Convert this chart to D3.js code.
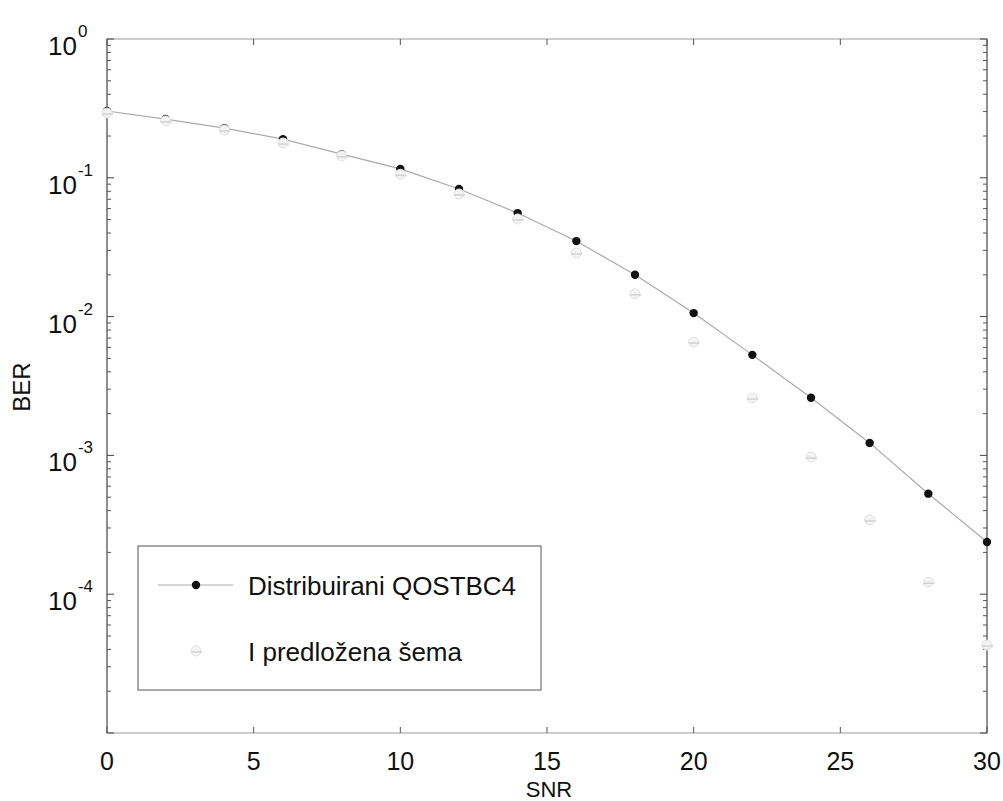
<!DOCTYPE html>
<html>
<head>
<meta charset="utf-8">
<script src="https://cdn.jsdelivr.net/npm/d3@7"></script>
<style>
  body { margin: 0; background: #fff; }
  svg { font-family: "Liberation Sans", Arial, sans-serif; }
</style>
</head>
<body>
<svg width="1003" height="801"></svg>
<script>
// data
const snr = [0, 2, 4, 6, 8, 10, 12, 14, 16, 18, 20, 22, 24, 26, 28, 30];
const berQostbc = [0.303, 0.265, 0.228, 0.19, 0.148, 0.116, 0.083, 0.0557, 0.035, 0.020,
                   0.0106, 0.0053, 0.0026, 0.00123, 0.00053, 0.000238];
const berProposed = [0.293, 0.257, 0.221, 0.178, 0.144, 0.106, 0.0764, 0.0505, 0.0287, 0.0146,
                     0.00656, 0.00259, 0.000973, 0.000343, 0.000122, 0.000043];
const xTicks = [0, 5, 10, 15, 20, 25, 30];
const yDecades = [0, -1, -2, -3, -4];
const legendLabels = ["Distribuirani QOSTBC4", "I predložena šema"];

const svg = d3.select("svg");
const plotL = 107, plotR = 987, plotT = 39, plotB = 733;

let x = d3.scaleLinear().domain([0, 30]).range([plotL, plotR]);
let y = d3.scaleLog().domain([1e-5, 1]).range([plotB, plotT]);

// frame
svg.append("rect")
   .attr("x", plotL).attr("y", plotT)
   .attr("width", plotR - plotL).attr("height", plotB - plotT)
   .attr("fill", "none").attr("stroke", "#aaa").attr("stroke-width", 1.2);
svg.append("line").attr("x1", plotL).attr("x2", plotL).attr("y1", plotT).attr("y2", plotB)
   .attr("stroke", "#555");
svg.append("line").attr("x1", plotR).attr("x2", plotR).attr("y1", plotT).attr("y2", plotB)
   .attr("stroke", "#555");

// y ticks (major + minor, inside on both sides)
let minor = [];
for (let e = -5; e < 0; e++) {
    for (let m = 2; m <= 9; m++) minor.push(m * Math.pow(10, e));
}
let majors = d3.range(-5, 1).map(e => Math.pow(10, e));
[plotL, plotR].forEach(side => {
    let dir = side === plotL ? 1 : -1;
    majors.forEach(v => {
        svg.append("line").attr("x1", side).attr("x2", side + dir * 7)
           .attr("y1", y(v)).attr("y2", y(v)).attr("stroke", "#444");
    });
    minor.forEach(v => {
        svg.append("line").attr("x1", side).attr("x2", side + dir * 4)
           .attr("y1", y(v)).attr("y2", y(v)).attr("stroke", "#555");
    });
});

// x ticks inside top and bottom
xTicks.forEach(t => {
    svg.append("line").attr("x1", x(t)).attr("x2", x(t))
       .attr("y1", plotB).attr("y2", plotB - 6).attr("stroke", "#555");
    svg.append("line").attr("x1", x(t)).attr("x2", x(t))
       .attr("y1", plotT).attr("y2", plotT + 6).attr("stroke", "#555");
    svg.append("text").attr("x", x(t)).attr("y", plotB + 37)
       .attr("text-anchor", "middle").attr("font-size", 25).attr("fill", "#111")
       .text(t);
});

// y tick labels 10^e
yDecades.forEach(e => {
    let ty = y(Math.pow(10, e));
    let txt = svg.append("text").attr("x", 48).attr("y", ty + 16)
       .attr("font-size", 26).attr("fill", "#111");
    txt.append("tspan").text("10");
    txt.append("tspan").attr("dx", 1).attr("dy", -18).attr("font-size", 17)
       .text(e === 0 ? "0" : "-" + (-e));
});

// axis titles
svg.append("text").attr("x", 549).attr("y", 797).attr("text-anchor", "middle")
   .attr("font-size", 22).attr("fill", "#111").text("SNR");
svg.append("text").attr("transform", "translate(30,387) rotate(-90)")
   .attr("text-anchor", "middle").attr("font-size", 24).attr("fill", "#111").text("BER");

// series 1: line + black dots
let line = d3.line().x((d, i) => x(snr[i])).y(d => y(d));
svg.append("path").datum(berQostbc).attr("d", line)
   .attr("fill", "none").attr("stroke", "#aaa").attr("stroke-width", 1.2);
svg.selectAll(".dot1").data(berQostbc).enter().append("circle")
   .attr("cx", (d, i) => x(snr[i])).attr("cy", d => y(d)).attr("r", 4.2)
   .attr("fill", "#111");

// series 2: faint light-grey markers
function faintMarker(g, cx, cy) {
    g.append("circle").attr("cx", cx).attr("cy", cy).attr("r", 5)
     .attr("fill", "#f3f3f3").attr("stroke", "#e2e2e2").attr("stroke-width", 1);
    g.append("line").attr("x1", cx - 5).attr("x2", cx + 6).attr("y1", cy + 1).attr("y2", cy + 1)
     .attr("stroke", "#d2d2d2").attr("stroke-width", 1.5);
}
let s2 = svg.append("g");
berProposed.forEach((d, i) => faintMarker(s2, x(snr[i]), y(d)));

// legend
let lg = svg.append("g");
lg.append("rect").attr("x", 138).attr("y", 546).attr("width", 403).attr("height", 144)
  .attr("fill", "#fff").attr("stroke", "#555").attr("stroke-width", 1);
lg.append("line").attr("x1", 158).attr("x2", 233).attr("y1", 585).attr("y2", 585)
  .attr("stroke", "#aaa").attr("stroke-width", 1.2);
lg.append("circle").attr("cx", 196).attr("cy", 585).attr("r", 4.2).attr("fill", "#111");
faintMarker(lg, 196, 651);
legendLabels.forEach((l, i) => {
    lg.append("text").attr("x", 248).attr("y", 595 + i * 66)
      .attr("font-size", 26).attr("textLength", i === 0 ? 268 : 214)
      .attr("fill", "#111").text(l);
});
</script>
</body>
</html>
